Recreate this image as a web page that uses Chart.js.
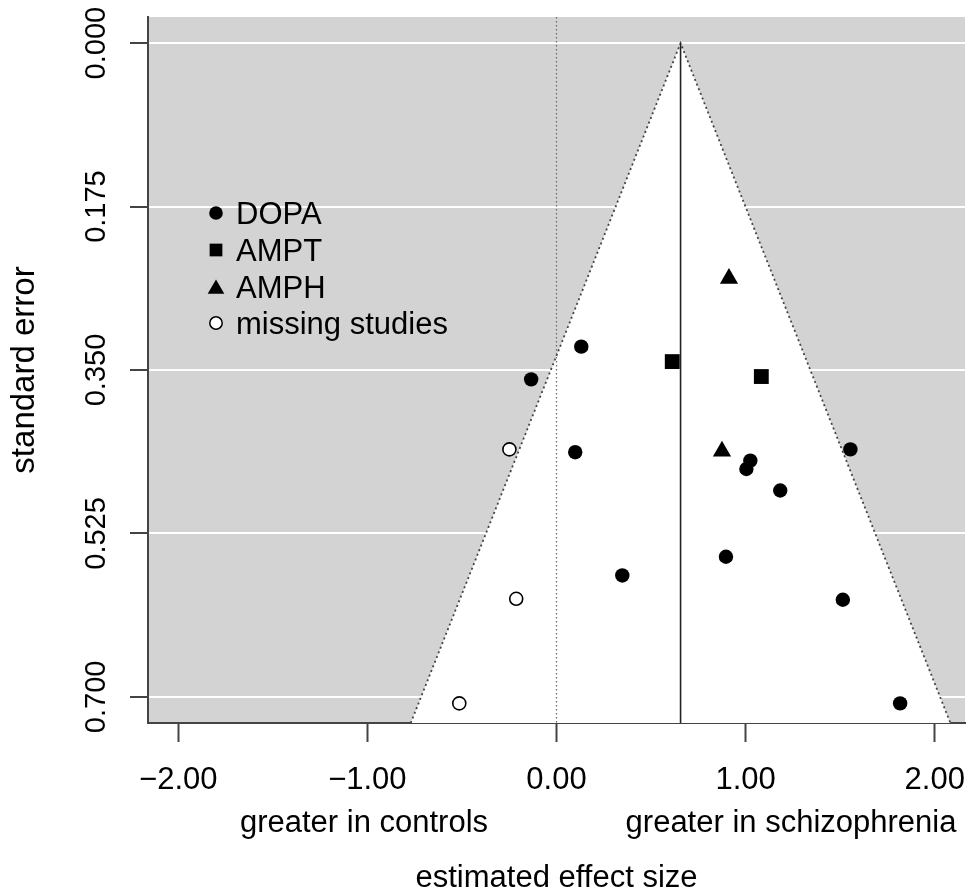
<!DOCTYPE html>
<html><head><meta charset="utf-8">
<script src="https://cdn.jsdelivr.net/npm/chart.js@4/dist/chart.umd.min.js"></script>
<style>html,body{margin:0;padding:0;background:#fff;}canvas{display:block;}</style>
</head><body>
<canvas id="c" width="969" height="894"></canvas>
<script>
// ---- data ----
const xTickValues = [-2, -1, 0, 1, 2];
const xTickLabels = ['\u22122.00', '\u22121.00', '0.00', '1.00', '2.00'];
const yTickValues = [0, 0.175, 0.35, 0.525, 0.7];
const yTickLabels = ['0.000', '0.175', '0.350', '0.525', '0.700'];

const dopaEffect = [0.131, -0.134, 0.099, 1.025, 1.004, 1.554, 1.183, 0.896, 0.348, 1.514, 1.817];
const dopaSE     = [0.325, 0.360, 0.438, 0.447, 0.456, 0.435, 0.479, 0.550, 0.570, 0.596, 0.707];
const amptEffect = [0.612, 1.083];
const amptSE     = [0.341, 0.357];
const amphEffect = [0.912, 0.875];
const amphSE     = [0.252, 0.437];
const missingEffect = [-0.249, -0.213, -0.514];
const missingSE     = [0.435, 0.595, 0.707];

const pooledEstimate = 0.656;
const zCrit = 1.96;
const xLimits = [-2.16, 2.16];
const yLimits = [-0.028, 0.728];

const legendLabels = ['DOPA', 'AMPT', 'AMPH', 'missing studies'];
const sideLabels = ['greater in controls', 'greater in schizophrenia'];
const xTitle = 'estimated effect size';
const yTitle = 'standard error';

// ---- build ----
const FONT = '"Liberation Sans", Arial, Helvetica, sans-serif';
Chart.defaults.font.family = FONT;
Chart.defaults.color = '#000';

const toPts = (xs, ys) => xs.map((v, i) => ({x: v, y: ys[i]}));
const seMax = yLimits[1];

const bgPlugin = {
  id: 'bg',
  beforeDraw(chart) {
    const {ctx, chartArea: a} = chart;
    ctx.save();
    ctx.fillStyle = '#fff';
    ctx.fillRect(0, 0, chart.width, chart.height);
    ctx.fillStyle = '#d3d3d3';
    ctx.fillRect(a.left, a.top, a.right - a.left, a.bottom - a.top);
    ctx.restore();
  }
};

const legendStyles = [
  {pointStyle: 'circle', radius: 6.8, fill: '#000', stroke: '#000', bw: 0},
  {pointStyle: 'rect', radius: 9, fill: '#000', stroke: '#000', bw: 0},
  {pointStyle: 'triangle', radius: 9.6, fill: '#000', stroke: '#000', bw: 0},
  {pointStyle: 'circle', radius: 6.2, fill: '#fff', stroke: '#000', bw: 1.5}
];

const annotPlugin = {
  id: 'annot',
  afterDraw(chart) {
    const {ctx} = chart;
    const xs = chart.scales.x;
    ctx.save();
    ctx.fillStyle = '#000';
    ctx.font = '31px ' + FONT;
    ctx.textAlign = 'center';
    ctx.textBaseline = 'middle';
    ctx.fillText(sideLabels[0], 364, 823);
    ctx.fillText(sideLabels[1], 791, 823);
    ctx.fillText(xTitle, (xs.left + xs.right) / 2, 878);
    // legend
    const rowY = [213, 250, 287, 323];
    legendLabels.forEach((lab, i) => {
      const s = legendStyles[i];
      ctx.fillStyle = s.fill;
      ctx.strokeStyle = s.stroke;
      ctx.lineWidth = s.bw;
      Chart.helpers.drawPoint(ctx, {pointStyle: s.pointStyle, radius: s.radius, rotation: 0, borderWidth: s.bw}, 216, rowY[i] + (s.pointStyle === 'triangle' ? 2 : 0));
      ctx.fillStyle = '#000';
      ctx.textAlign = 'left';
      ctx.fillText(lab, 236, rowY[i] + 2);
    });
    ctx.restore();
  }
};

new Chart(document.getElementById('c'), {
  type: 'scatter',
  data: {
    datasets: [
      {
        type: 'line', label: 'funnel', order: 10,
        data: [{x: pooledEstimate - zCrit * seMax, y: seMax}, {x: pooledEstimate, y: 0}, {x: pooledEstimate + zCrit * seMax, y: seMax}],
        borderColor: '#444', borderWidth: 1.8, borderDash: [2, 3], pointRadius: 0,
        backgroundColor: '#fff', fill: {value: seMax}, tension: 0
      },
      {
        type: 'line', label: 'zero', order: 9,
        data: [{x: 0, y: yLimits[0]}, {x: 0, y: yLimits[1]}],
        borderColor: '#666', borderWidth: 1.2, borderDash: [1.5, 2.5], pointRadius: 0, fill: false
      },
      {
        type: 'line', label: 'estimate', order: 8,
        data: [{x: pooledEstimate, y: 0}, {x: pooledEstimate, y: seMax}],
        borderColor: '#222', borderWidth: 1.6, pointRadius: 0, fill: false
      },
      {
        label: legendLabels[0], order: 0, data: toPts(dopaEffect, dopaSE),
        pointStyle: 'circle', pointRadius: 7.2, backgroundColor: '#000', borderColor: '#000', borderWidth: 0
      },
      {
        label: legendLabels[1], order: 0, data: toPts(amptEffect, amptSE),
        pointStyle: 'rect', pointRadius: 10.5, backgroundColor: '#000', borderColor: '#000', borderWidth: 0
      },
      {
        label: legendLabels[2], order: 0, data: toPts(amphEffect, amphSE),
        pointStyle: 'triangle', pointRadius: 10.5, backgroundColor: '#000', borderColor: '#000', borderWidth: 0
      },
      {
        label: legendLabels[3], order: 0, data: toPts(missingEffect, missingSE),
        pointStyle: 'circle', pointRadius: 6.5, backgroundColor: '#fff', borderColor: '#000', borderWidth: 1.6
      }
    ]
  },
  options: {
    responsive: false,
    animation: false,
    events: [],
    layout: {autoPadding: false, padding: {top: 17, right: 4, left: 0, bottom: 0}},
    plugins: {legend: {display: false}, tooltip: {enabled: false}},
    scales: {
      x: {
        type: 'linear', min: xLimits[0], max: xLimits[1],
        afterBuildTicks: s => { s.ticks = xTickValues.map(v => ({value: v})); },
        afterFit: s => { s.height = 171; s.paddingLeft = 0; s.paddingRight = 0; },
        ticks: {
          callback: (v, i) => xTickLabels[i],
          font: {size: 31}, color: '#000', padding: 20, maxRotation: 0, minRotation: 0, autoSkip: false
        },
        grid: {drawOnChartArea: false, drawTicks: true, tickLength: 19, tickColor: '#444', tickWidth: 2},
        border: {display: true, color: '#444', width: 2}
      },
      y: {
        type: 'linear', reverse: true, min: yLimits[0], max: yLimits[1],
        afterBuildTicks: s => { s.ticks = yTickValues.map(v => ({value: v})); },
        afterFit: s => { s.width = 148; s.paddingTop = 0; s.paddingBottom = 0; },
        ticks: {
          callback: (v, i) => yTickLabels[i],
          font: {size: 29}, color: '#000', minRotation: 90, maxRotation: 90, crossAlign: 'center', padding: -3, autoSkip: false
        },
        grid: {color: '#fff', lineWidth: 2, drawTicks: true, tickLength: 18, tickColor: '#444', tickWidth: 2},
        border: {display: true, color: '#444', width: 2},
        title: {display: true, text: yTitle, font: {size: 33}, color: '#000', padding: {top: 5, bottom: 0}}
      }
    }
  },
  plugins: [bgPlugin, annotPlugin]
});
</script>
</body></html>
